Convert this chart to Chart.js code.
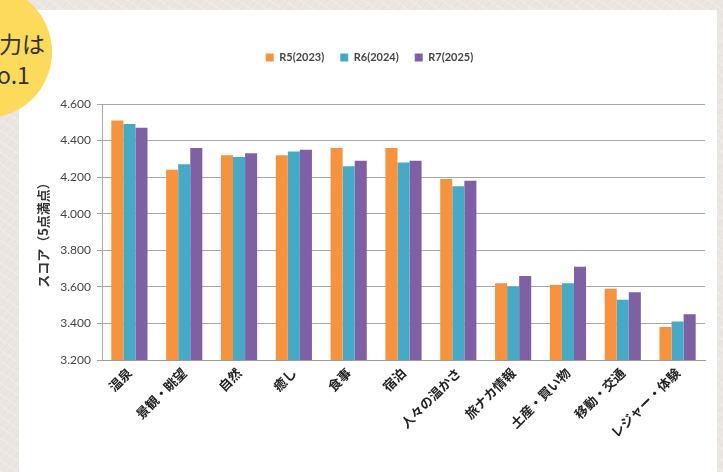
<!DOCTYPE html>
<html lang="ja">
<head>
  <meta charset="UTF-8">
  <title>スコア比較</title>
  <script src="https://cdn.jsdelivr.net/npm/chart.js"></script>
  <style>
    html, body { margin: 0; padding: 0; }
    body {
      width: 723px; height: 472px; position: relative; overflow: hidden;
      background-color: #ebe6e2;
      background-image:
        repeating-linear-gradient(35deg, rgba(255,255,255,0.18) 0 2px, rgba(0,0,0,0) 2px 9px),
        repeating-linear-gradient(-50deg, rgba(160,150,140,0.06) 0 1px, rgba(0,0,0,0) 1px 6px);
    }
    #card { position: absolute; left: 19px; top: 10px; width: 698px; height: 470px; background: #fff; }
    #badge {
      position: absolute; left: -80px; top: -14px; width: 132px; height: 132px;
      border-radius: 50%; background: #fdd95c;
    }
    #badge div {
      position: absolute; left: 79px; font-family: "Noto Sans CJK JP", sans-serif;
      font-size: 23px; color: #333; line-height: 31px; white-space: nowrap;
    }
    #chartWrap { position: absolute; left: 0; top: 0; width: 723px; height: 472px; }
  </style>
</head>
<body>
  <div id="card"></div>
  <div id="badge"><div style="top:42px">力は</div><div style="top:73px;left:77px">o.1</div></div>
  <div id="chartWrap"><canvas id="scoreChart" width="723" height="472"></canvas></div>

  <script>
    const categories = ['温泉', '景観・眺望', '自然', '癒し', '食事', '宿泊', '人々の温かさ', '旅ナカ情報', '土産・買い物', '移動・交通', 'レジャー・体験'];
    const seriesNames = ['R5(2023)', 'R6(2024)', 'R7(2025)'];
    const r5 = [4.51, 4.24, 4.32, 4.32, 4.36, 4.36, 4.19, 3.62, 3.61, 3.59, 3.38];
    const r6 = [4.49, 4.27, 4.31, 4.34, 4.26, 4.28, 4.15, 3.60, 3.62, 3.53, 3.41];
    const r7 = [4.47, 4.36, 4.33, 4.35, 4.29, 4.29, 4.18, 3.66, 3.71, 3.57, 3.45];
    const colors = ['#f7933f', '#46a9c6', '#7f60a5'];

    // push the plot area down below the legend
    const legendSpacer = {
      id: 'legendSpacer',
      beforeInit(chart) {
        const origFit = chart.legend.fit;
        chart.legend.fit = function () {
          origFit.bind(chart.legend)();
          this.height += 31;
        };
      }
    };

    const ctx = document.getElementById('scoreChart').getContext('2d');
    new Chart(ctx, {
      type: 'bar',
      data: {
        labels: categories,
        datasets: [r5, r6, r7].map((vals, i) => ({
          label: seriesNames[i],
          data: vals,
          backgroundColor: colors[i],
          borderWidth: 0,
          barPercentage: 1.0,
          categoryPercentage: 0.66
        }))
      },
      options: {
        responsive: false,
        animation: false,
        layout: { padding: { top: 36, left: 34, right: 18, bottom: 0 } },
        plugins: {
          legend: {
            position: 'top',
            labels: {
              boxWidth: 8, boxHeight: 8, padding: 16,
              color: '#444',
              font: { family: 'Lato, "Noto Sans", sans-serif', size: 11, weight: 'bold' }
            }
          },
          tooltip: { enabled: false }
        },
        scales: {
          x: {
            grid: { display: false, drawTicks: false },
            border: { display: true, color: '#9a9a9a', width: 1 },
            ticks: {
              autoSkip: false, minRotation: 45, maxRotation: 45, padding: 5,
              color: '#222',
              font: { family: '"Noto Sans CJK JP", sans-serif', size: 13, weight: 'bold' }
            },
            afterFit: (scale) => { scale.height = 112; }
          },
          y: {
            min: 3.2, max: 4.6,
            ticks: {
              stepSize: 0.2, padding: 6, color: '#444',
              font: { family: 'Lato, "Noto Sans", sans-serif', size: 12 },
              callback: (v) => Number(v).toFixed(3)
            },
            grid: { color: '#a8a8a8', lineWidth: 1, tickLength: 5 },
            border: { display: true, color: '#a8a8a8' },
            title: {
              display: true, text: 'スコア（5点満点）', color: '#333',
              padding: { top: 1, bottom: 0 },
              font: { family: '"Noto Sans CJK JP", sans-serif', size: 13, weight: 'bold' }
            },
            afterFit: (scale) => { scale.width = 68; }
          }
        }
      },
      plugins: [legendSpacer]
    });
  </script>
</body>
</html>
